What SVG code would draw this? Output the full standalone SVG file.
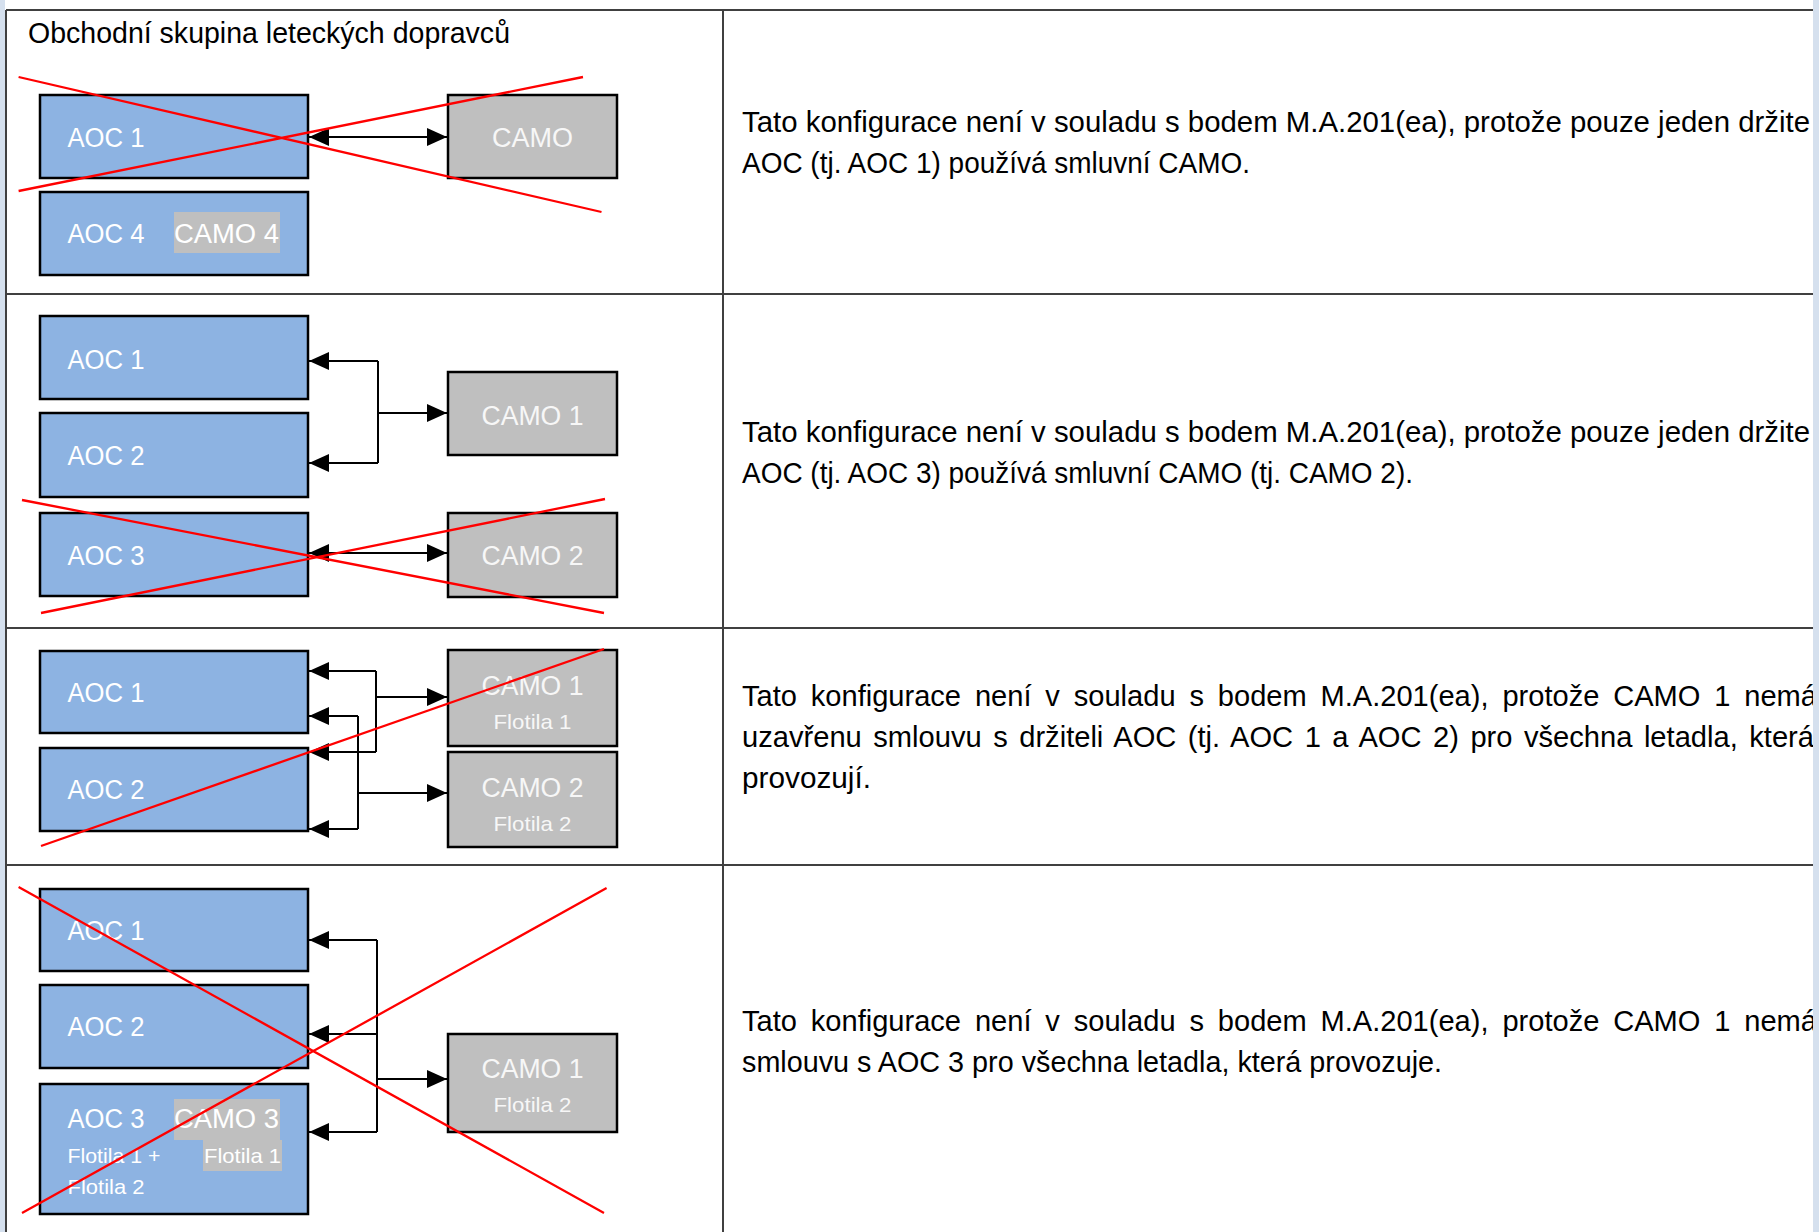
<svg xmlns="http://www.w3.org/2000/svg" width="1819" height="1232" viewBox="0 0 1819 1232">
<defs>
<style>
.aoc{fill:#8DB3E2;stroke:#000;stroke-width:2.5}
.camo{fill:#BFBFBF;stroke:#000;stroke-width:2.5}
.hl{fill:#BFBFBF}
.lbl{font-family:"Liberation Sans",Arial,sans-serif;font-size:27px;fill:#FFFFFF}
.glbl{font-family:"Liberation Sans",Arial,sans-serif;font-size:27px;fill:#F7F7F7;text-anchor:middle}
.sm{font-size:21px}
.txt{font-family:"Liberation Sans",Arial,sans-serif;font-size:29px;fill:#000}
.grid{stroke:#404040;stroke-width:2;fill:none}
.xr{stroke:#FF0000;stroke-width:2.3;fill:none}
.con{stroke:#000;stroke-width:2;fill:none}
.arr{marker-end:url(#ah)}
.both{marker-start:url(#ah);marker-end:url(#ah)}
</style>
<marker id="ah" markerUnits="userSpaceOnUse" markerWidth="20" markerHeight="20" viewBox="0 0 20 20" refX="20" refY="10" orient="auto-start-reverse"><path d="M0,1 L20,10 L0,19 Z" fill="#000"/></marker>
</defs>
<rect x="0" y="0" width="1819" height="1232" fill="#FFFFFF"/>
<rect x="0" y="0" width="5" height="1232" fill="#D5E0EE"/>

<g id="table">
<path class="grid" d="M6,10 H1813 M6,294 H1813 M6,628 H1813 M6,865 H1813 M6,10 V1232 M723,10 V1232"/>
</g>

<g id="title"><text class="txt" x="28" y="43" font-size="28" textLength="482" lengthAdjust="spacingAndGlyphs">Obchodní skupina leteckých dopravců</text></g>

<!-- Row 1 -->
<g id="r1-aoc1"><rect class="aoc" x="40" y="95" width="268" height="83"/><text class="lbl" x="67.5" y="147" textLength="77" lengthAdjust="spacingAndGlyphs">AOC 1</text></g>
<g id="r1-camo"><rect class="camo" x="448" y="95" width="169" height="83"/><text class="glbl" x="532.5" y="147" textLength="81" lengthAdjust="spacingAndGlyphs">CAMO</text></g>
<g id="r1-aoc4"><rect class="aoc" x="40" y="192" width="268" height="83"/><text class="lbl" x="67.5" y="243" textLength="77" lengthAdjust="spacingAndGlyphs">AOC 4</text><rect class="hl" x="174" y="212" width="106" height="41"/><text class="lbl" x="174" y="243" textLength="105" lengthAdjust="spacingAndGlyphs">CAMO 4</text></g>
<g id="r1-desc"><text class="txt" x="742" y="132" textLength="1068" lengthAdjust="spacingAndGlyphs">Tato konfigurace není v souladu s bodem M.A.201(ea), protože pouze jeden držite</text><text class="txt" x="742" y="173" textLength="508" lengthAdjust="spacingAndGlyphs">AOC (tj. AOC 1) používá smluvní CAMO.</text></g>

<!-- Row 2 -->
<g id="r2-aoc1"><rect class="aoc" x="40" y="316" width="268" height="83"/><text class="lbl" x="67.5" y="369" textLength="77" lengthAdjust="spacingAndGlyphs">AOC 1</text></g>
<g id="r2-aoc2"><rect class="aoc" x="40" y="413" width="268" height="84"/><text class="lbl" x="67.5" y="465" textLength="77" lengthAdjust="spacingAndGlyphs">AOC 2</text></g>
<g id="r2-aoc3"><rect class="aoc" x="40" y="513" width="268" height="83"/><text class="lbl" x="67.5" y="565" textLength="77" lengthAdjust="spacingAndGlyphs">AOC 3</text></g>
<g id="r2-camo1"><rect class="camo" x="448" y="372" width="169" height="83"/><text class="glbl" x="532.5" y="425" textLength="102" lengthAdjust="spacingAndGlyphs">CAMO 1</text></g>
<g id="r2-camo2"><rect class="camo" x="448" y="513" width="169" height="84"/><text class="glbl" x="532.5" y="565" textLength="102" lengthAdjust="spacingAndGlyphs">CAMO 2</text></g>
<g id="r2-desc"><text class="txt" x="742" y="442" textLength="1068" lengthAdjust="spacingAndGlyphs">Tato konfigurace není v souladu s bodem M.A.201(ea), protože pouze jeden držite</text><text class="txt" x="742" y="483" textLength="671" lengthAdjust="spacingAndGlyphs">AOC (tj. AOC 3) používá smluvní CAMO (tj. CAMO 2).</text></g>

<!-- Row 3 -->
<g id="r3-aoc1"><rect class="aoc" x="40" y="651" width="268" height="82"/><text class="lbl" x="67.5" y="702" textLength="77" lengthAdjust="spacingAndGlyphs">AOC 1</text></g>
<g id="r3-aoc2"><rect class="aoc" x="40" y="748" width="268" height="83"/><text class="lbl" x="67.5" y="799" textLength="77" lengthAdjust="spacingAndGlyphs">AOC 2</text></g>
<g id="r3-camo1"><rect class="camo" x="448" y="650" width="169" height="96"/><text class="glbl" x="532.5" y="695" textLength="102" lengthAdjust="spacingAndGlyphs">CAMO 1</text><text class="glbl sm" x="532.5" y="729" textLength="78" lengthAdjust="spacingAndGlyphs">Flotila 1</text></g>
<g id="r3-camo2"><rect class="camo" x="448" y="752" width="169" height="95"/><text class="glbl" x="532.5" y="797" textLength="102" lengthAdjust="spacingAndGlyphs">CAMO 2</text><text class="glbl sm" x="532.5" y="831" textLength="78" lengthAdjust="spacingAndGlyphs">Flotila 2</text></g>
<g id="r3-desc">
<text class="txt" x="742" y="706" word-spacing="5.8" textLength="1075" lengthAdjust="spacingAndGlyphs">Tato konfigurace není v souladu s bodem M.A.201(ea), protože CAMO 1 nemá</text>
<text class="txt" x="742" y="747" word-spacing="3.4" textLength="1072" lengthAdjust="spacingAndGlyphs">uzavřenu smlouvu s držiteli AOC (tj. AOC 1 a AOC 2) pro všechna letadla, která</text>
<text class="txt" x="742" y="788" textLength="129" lengthAdjust="spacingAndGlyphs">provozují.</text>
</g>

<!-- Row 4 -->
<g id="r4-aoc1"><rect class="aoc" x="40" y="889" width="268" height="82"/><text class="lbl" x="67.5" y="940" textLength="77" lengthAdjust="spacingAndGlyphs">AOC 1</text></g>
<g id="r4-aoc2"><rect class="aoc" x="40" y="985" width="268" height="83"/><text class="lbl" x="67.5" y="1036" textLength="77" lengthAdjust="spacingAndGlyphs">AOC 2</text></g>
<g id="r4-aoc3"><rect class="aoc" x="40" y="1084" width="268" height="130"/>
<rect class="hl" x="174" y="1099" width="106" height="41"/><rect class="hl" x="203" y="1140" width="79" height="31"/>
<text class="lbl" x="67.5" y="1128" textLength="77" lengthAdjust="spacingAndGlyphs">AOC 3</text>
<text class="lbl" x="174" y="1128" textLength="105" lengthAdjust="spacingAndGlyphs">CAMO 3</text>
<text class="lbl sm" x="67.5" y="1163" textLength="93" lengthAdjust="spacingAndGlyphs">Flotila 1 +</text>
<text class="lbl sm" x="204" y="1163" textLength="77" lengthAdjust="spacingAndGlyphs">Flotila 1</text>
<text class="lbl sm" x="67.5" y="1194" textLength="77" lengthAdjust="spacingAndGlyphs">Flotila 2</text></g>
<g id="r4-camo1"><rect class="camo" x="448" y="1034" width="169" height="98"/><text class="glbl" x="532.5" y="1078" textLength="102" lengthAdjust="spacingAndGlyphs">CAMO 1</text><text class="glbl sm" x="532.5" y="1112" textLength="78" lengthAdjust="spacingAndGlyphs">Flotila 2</text></g>
<g id="r4-desc">
<text class="txt" x="742" y="1031" word-spacing="5.8" textLength="1075" lengthAdjust="spacingAndGlyphs">Tato konfigurace není v souladu s bodem M.A.201(ea), protože CAMO 1 nemá</text>
<text class="txt" x="742" y="1072" textLength="700" lengthAdjust="spacingAndGlyphs">smlouvu s AOC 3 pro všechna letadla, která provozuje.</text>
</g>

<g id="connectors">
<path class="con both" d="M309,137 H447"/>
<path class="con" d="M378,361 V463"/>
<path class="con arr" d="M378,361 H309"/>
<path class="con arr" d="M378,463 H309"/>
<path class="con arr" d="M378,413 H447"/>
<path class="con both" d="M309,553 H447"/>
<path class="con" d="M376,671 V752"/>
<path class="con arr" d="M376,671 H309"/>
<path class="con arr" d="M376,752 H309"/>
<path class="con arr" d="M376,697 H447"/>
<path class="con" d="M358,716 V829"/>
<path class="con arr" d="M358,716 H309"/>
<path class="con arr" d="M358,829 H309"/>
<path class="con arr" d="M358,793 H447"/>
<path class="con" d="M377,940 V1132"/>
<path class="con arr" d="M377,940 H309"/>
<path class="con arr" d="M377,1034 H309"/>
<path class="con arr" d="M377,1132 H309"/>
<path class="con arr" d="M377,1079 H447"/>
</g>

<g id="crosses">
<path class="xr" d="M18.6,77 L601.5,212 M18.6,191 L583,77"/>
<path class="xr" d="M22,500 L604,613 M41,613 L605,499"/>
<path class="xr" d="M41,846 L604,649"/>
<path class="xr" d="M18.6,887 L604,1213 M22,1213 L606.6,888"/>
</g>
<rect x="1813" y="0" width="6" height="1232" fill="#D5E0EE"/>
</svg>
